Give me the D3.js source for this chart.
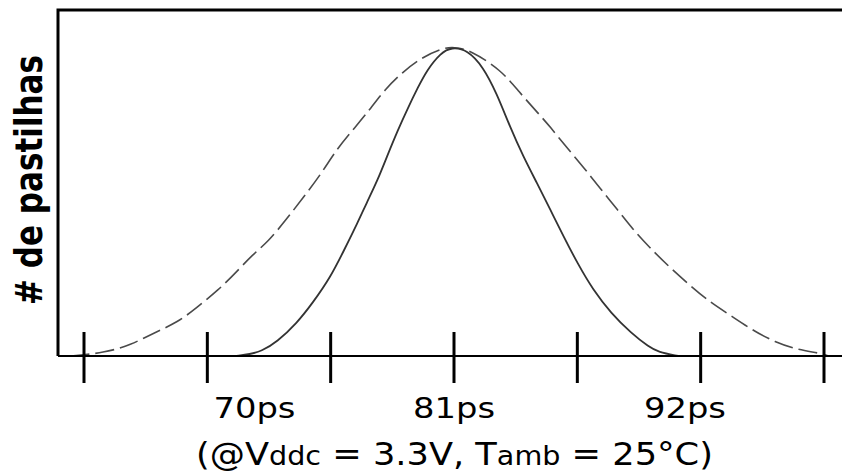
<!DOCTYPE html>
<html>
<head>
<meta charset="utf-8">
<script src="https://cdn.jsdelivr.net/npm/d3@7"></script>
<style>
  html, body { margin: 0; padding: 0; background: #fff; }
  text { font-family: "DejaVu Sans", Verdana, sans-serif; fill: #000; }
</style>
</head>
<body>
<svg width="842" height="474"></svg>
<script>
// delay in ps vs relative number of dies (peak = 100)
const solidX = [71.3, 71.9, 72.4, 73.1, 74.0, 74.7, 75.5, 76.1, 76.7, 77.1, 77.6, 78.0, 78.5, 78.9, 79.4, 79.8, 80.4, 80.9, 81.6, 82.3, 82.9, 83.5, 84.1, 84.7, 85.3, 85.9, 86.5, 87.2, 88.0, 88.9, 89.7, 90.1, 91.0];
const solidY = [0, 0.6, 1.5, 4.5, 10.7, 17.2, 25.6, 34.3, 43.1, 49.5, 57.0, 64.4, 73.2, 79.6, 87.1, 92.6, 98.1, 100, 99.1, 93.6, 85.1, 74.1, 64.4, 56.0, 47.3, 38.5, 30.1, 21.4, 13.9, 7.4, 2.9, 1.3, 0];

const dashX = [63.9, 65.4, 66.6, 67.6, 68.7, 69.5, 70.5, 71.3, 72.0, 72.7, 73.5, 74.3, 75.1, 75.8, 76.6, 77.3, 77.9, 78.7, 79.6, 80.5, 81.0, 81.7, 83.1, 83.9, 84.7, 85.3, 86.0, 86.8, 87.5, 88.3, 89.0, 89.7, 90.6, 91.5, 92.4, 93.3, 94.3, 95.3, 96.4, 97.3, 97.7];
const dashY = [0, 1.0, 3.6, 7.4, 11.0, 15.5, 21.4, 27.2, 32.7, 36.9, 44.0, 51.5, 59.2, 67.3, 74.1, 80.3, 86.1, 91.9, 96.8, 99.7, 100, 99.1, 92.6, 85.5, 79.0, 74.1, 67.7, 60.9, 54.4, 47.3, 40.8, 35.3, 28.8, 23.0, 17.5, 13.3, 8.4, 4.5, 1.9, 1.0, 0];

const tickValues = [64.5, 70, 75.5, 81, 86.5, 92, 97.5];
const tickLabels = ["70ps", "81ps", "92ps"];
const tickLabelAt = [72.1, 81, 91.3];
const yTitle = "# de pastilhas";

const svg = d3.select("svg");
const width = +svg.attr("width");

const x = d3.scaleLinear().domain([64.5, 97.5]).range([84, 824]);
const y = d3.scaleLinear().domain([0, 112]).range([356, 10]);

const line = d3.line()
  .x((d) => x(d[0]))
  .y((d) => y(d[1]))
  .curve(d3.curveBasis);

// frame: left and top borders
svg.append("path")
  .attr("d", `M${x.range()[0] - 26},${y(0)} V${y.range()[1]} H${width}`)
  .attr("fill", "none")
  .attr("stroke", "#000")
  .attr("stroke-width", 3);

// curves
svg.append("path")
  .datum(dashX.map((v, i) => [v, dashY[i]]))
  .attr("d", line)
  .attr("fill", "none")
  .attr("stroke", "#4a4a4a")
  .attr("stroke-width", 1.6)
  .attr("stroke-dasharray", "19,6");

svg.append("path")
  .datum(solidX.map((v, i) => [v, solidY[i]]))
  .attr("d", line)
  .attr("fill", "none")
  .attr("stroke", "#333")
  .attr("stroke-width", 1.8);

// x axis line
svg.append("line")
  .attr("x1", 58)
  .attr("x2", width)
  .attr("y1", y(0))
  .attr("y2", y(0))
  .attr("stroke", "#000")
  .attr("stroke-width", 2);

svg.selectAll(".tick")
  .data(tickValues)
  .enter()
  .append("line")
  .attr("class", "tick")
  .attr("x1", (d) => x(d))
  .attr("x2", (d) => x(d))
  .attr("y1", y(0) - 24)
  .attr("y2", y(0) + 27)
  .attr("stroke", "#000")
  .attr("stroke-width", 3);

svg.selectAll(".tlabel")
  .data(tickLabels)
  .enter()
  .append("text")
  .attr("class", "tlabel")
  .attr("x", (d, i) => x(tickLabelAt[i]))
  .attr("y", 418)
  .attr("text-anchor", "middle")
  .attr("font-size", 29)
  .attr("textLength", 82)
  .attr("lengthAdjust", "spacingAndGlyphs")
  .text((d) => d);

// y title
svg.append("text")
  .attr("transform", "translate(42,180) rotate(-90)")
  .attr("text-anchor", "middle")
  .attr("font-size", 37)
  .attr("font-weight", "bold")
  .attr("textLength", 250)
  .attr("lengthAdjust", "spacingAndGlyphs")
  .text(yTitle);

// x title, "ddc" and "amb" set smaller
const sub = svg.append("g").attr("transform", "translate(454.5,465)");
const st = sub.append("text")
  .attr("text-anchor", "middle")
  .attr("font-size", 32);
st.append("tspan").text("(@V");
st.append("tspan").attr("font-size", 26).text("ddc");
st.append("tspan").text(" = 3.3V, T");
st.append("tspan").attr("font-size", 26).text("amb");
st.append("tspan").text(" = 25°C)");
const w = st.node().getComputedTextLength();
sub.attr("transform", `translate(454.5,465) scale(${517 / w},1)`);
</script>
</body>
</html>
